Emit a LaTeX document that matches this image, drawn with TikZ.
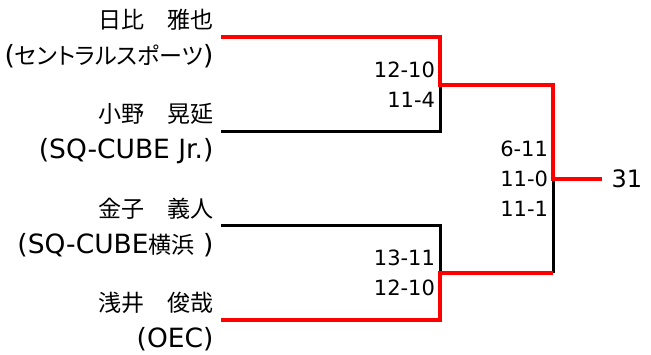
\documentclass[tikz,border=0pt]{standalone}
\usepackage{fontspec}
\setmainfont{DejaVu Sans}
\newfontfamily\jp[Scale=0.87]{Noto Sans CJK JP}
\newfontfamily\kana[Scale=0.87, RawFeature=+palt]{Noto Sans CJK JP}
\usepackage{tikz}
\usetikzlibrary{positioning,calc}

\tikzset{
  win/.style={draw=red, line width=4pt},
  lose/.style={draw=black, line width=3pt},
  player/.style={anchor=east, align=right, xshift=-4pt, yshift=-2pt, font=\fontsize{26.5}{36}\selectfont},
  score/.style={anchor=east, align=right, xshift=-1.5pt, font=\fontsize{21}{30}\selectfont},
}

\begin{document}
\begin{tikzpicture}[x=1pt, y=-1pt]
    \useasboundingbox (0, 0) rectangle (651, 355);

    % bracket points
    \coordinate (a) at (221, 37);
    \coordinate (b) at (221, 132);
    \coordinate (c) at (221, 226);
    \coordinate (d) at (221, 320);
    \coordinate (ab) at (440, 85);
    \coordinate (cd) at (440, 273);
    \coordinate (fin) at (553, 179);
    \coordinate (end) at (602, 179);

    \draw[lose] (b) -- (b -| ab) -- (ab);
    \draw[lose] (c) -- (c -| cd) -- (cd);
    \draw[lose] (cd -| fin) -- (fin);
    \draw[win] (a) -- (a -| ab) -- (ab) -- (ab -| fin) -- (fin) -- (end);
    \draw[win] (d) -- (d -| cd) -- (cd) -- (cd -| fin);

    \node[player] (pa) at (a) {{\jp 日比　雅也}\\({\kana セントラルスポーツ})};
    \node[player] (pb) at (b) {{\jp 小野　晃延}\\(SQ-CUBE Jr.)};
    \node[player] (pc) at (c) {{\jp 金子　義人}\\(SQ-CUBE{\jp 横浜} )};
    \node[player] (pd) at (d) {{\jp 浅井　俊哉}\\(OEC)};

    \node[score] (sab) at (ab) {12-10\\11-4};
    \node[score] (scd) at (cd) {13-11\\12-10};
    \node[score] (sfin) at (fin) {6-11\\11-0\\11-1};

    \node[anchor=west, xshift=6pt, font=\fontsize{24}{30}\selectfont] (num) at (end) {31};
  \end{tikzpicture}
\end{document}
